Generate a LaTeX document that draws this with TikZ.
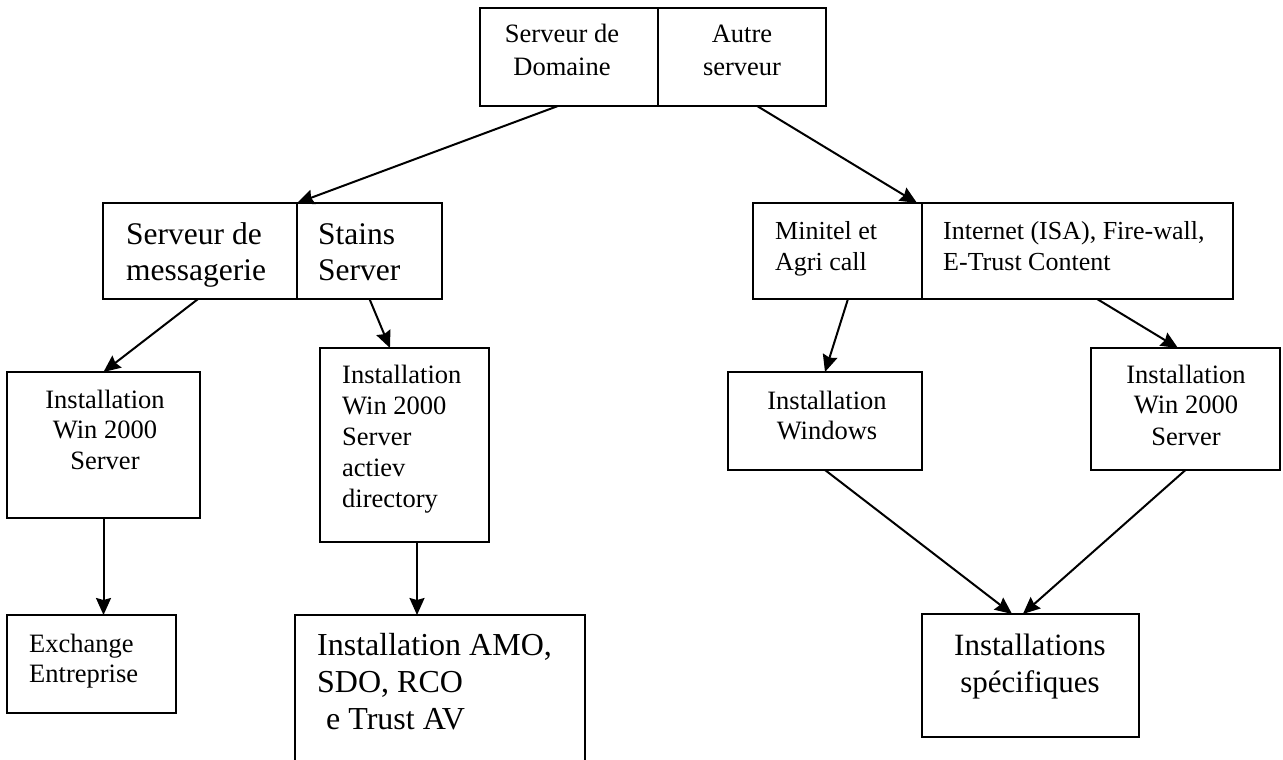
\documentclass[tikz,border=0pt]{standalone}
\usepackage{fontspec}
\setmainfont{Liberation Serif}
\usetikzlibrary{arrows.meta,calc}
\newcommand\mkbox[5]{\node[box,minimum width={(#4)-(#2)},minimum height={(#5)-(#3)}] (#1) at ({((#2)+(#4))/2},{((#3)+(#5))/2}) {};}
\newcommand\fs[1]{\fontsize{#1}{#1}\selectfont}
\begin{document}
\begin{tikzpicture}[x=1pt,y=-1pt,
  box/.style={draw=black,line width=2.2pt,inner sep=0pt,outer sep=0pt},
  conn/.style={line width=2pt,-{Stealth[length=17pt,width=15pt,inset=2pt]}},
  txt/.style={inner sep=0pt,anchor=base west},
  ctxt/.style={inner sep=0pt,anchor=base},
]
\useasboundingbox (0,0) rectangle (1283,760);
\clip (0,0) rectangle (1283,760);
\fill[white] (0,0) rectangle (1283,760);

% boxes
\mkbox{topL}{480}{8}{658}{106}
\mkbox{topR}{658}{8}{826}{106}
\mkbox{midLa}{103}{203}{297}{299}
\mkbox{midLb}{297}{203}{442}{299}
\mkbox{midRa}{753}{203}{922}{299}
\mkbox{midRb}{922}{203}{1233}{299}
\mkbox{inst1}{7}{372}{200}{518}
\mkbox{inst2}{320}{348}{489}{542}
\mkbox{exch}{7}{615}{176}{713}
\mkbox{amo}{295}{615}{585}{790}
\mkbox{win}{728}{372}{922}{470}
\mkbox{inst3}{1091}{348}{1280}{470}
\mkbox{spec}{922}{614}{1139}{737}

% texts
\node[ctxt] (tLa) at (562,43) {\fs{26.5}Serveur de};
\node[ctxt] (tLb) at (562,75) {\fs{26.5}Domaine};
\node[ctxt] (tRa) at (742,43) {\fs{26.5}Autre};
\node[ctxt] (tRb) at (742,75) {\fs{26.5}serveur};

\node[txt] (mLa1) at (126,244) {\fs{31.5}Serveur de};
\node[txt] (mLa2) at (126,280) {\fs{31.5}messagerie};
\node[txt] (mLb1) at (318,244) {\fs{31.5}Stains};
\node[txt] (mLb2) at (318,280) {\fs{31.5}Server};

\node[txt] (mRa1) at (775,239) {\fs{26}Minitel et};
\node[txt] (mRa2) at (775,270) {\fs{26}Agri call};
\node[txt] (mRb1) at (943,239) {\fs{26}Internet (ISA), Fire-wall,};
\node[txt] (mRb2) at (943,270) {\fs{26}E-Trust Content};

\node[ctxt] (i1a) at (105,408) {\fs{26.5}Installation};
\node[ctxt] (i1b) at (105,438) {\fs{26.5}Win 2000};
\node[ctxt] (i1c) at (105,469) {\fs{26.5}Server};

\node[txt] (i2a) at (342,383) {\fs{26.5}Installation};
\node[txt] (i2b) at (342,414) {\fs{26.5}Win 2000};
\node[txt] (i2c) at (342,445) {\fs{26.5}Server};
\node[txt] (i2d) at (342,476) {\fs{26.5}actiev};
\node[txt] (i2e) at (342,507) {\fs{26.5}directory};

\node[txt] (exa) at (29,652) {\fs{26.5}Exchange};
\node[txt] (exb) at (29,682) {\fs{26.5}Entreprise};

\node[txt] (amoa) at (317,655) {\fs{32}Installation AMO,};
\node[txt] (amob) at (317,692) {\fs{32}SDO, RCO};
\node[txt] (amoc) at (326,729) {\fs{32}e Trust AV};

\node[ctxt] (wa) at (827,409) {\fs{26.5}Installation};
\node[ctxt] (wb) at (827,439) {\fs{26.5}Windows};

\node[ctxt] (i3a) at (1186,383) {\fs{26.5}Installation};
\node[ctxt] (i3b) at (1186,413) {\fs{26.5}Win 2000};
\node[ctxt] (i3c) at (1186,445) {\fs{26.5}Server};

\node[ctxt] (spa) at (1030,655) {\fs{31}Installations};
\node[ctxt] (spb) at (1030,692) {\fs{31}spécifiques};

% connectors
\draw[conn] ($(topL.south west)!0.438!(topL.south east)$) -- (midLa.north east);
\draw[conn] ($(topR.south west)!0.59!(topR.south east)$) -- ([xshift=-5pt]midRa.north east);
\draw[conn] ($(midLa.south west)!0.49!(midLa.south east)$) -- (inst1.north);
\draw[conn] (midLb.south) -- ($(inst2.north west)!0.414!(inst2.north east)$);
\draw[conn] (inst1.south) -- (inst1.south |- exch.north);
\draw[conn] ($(inst2.south west)!0.574!(inst2.south east)$) coordinate (i2s) -- (i2s |- amo.north);
\draw[conn] ($(midRa.south west)!0.562!(midRa.south east)$) -- (win.north);
\draw[conn] ($(midRb.south west)!0.563!(midRb.south east)$) -- ($(inst3.north west)!0.46!(inst3.north east)$);
\draw[conn] (win.south) -- ($(spec.north west)!0.415!(spec.north east)$);
\draw[conn] (inst3.south) -- ($(spec.north west)!0.465!(spec.north east)$);
\end{tikzpicture}
\end{document}
